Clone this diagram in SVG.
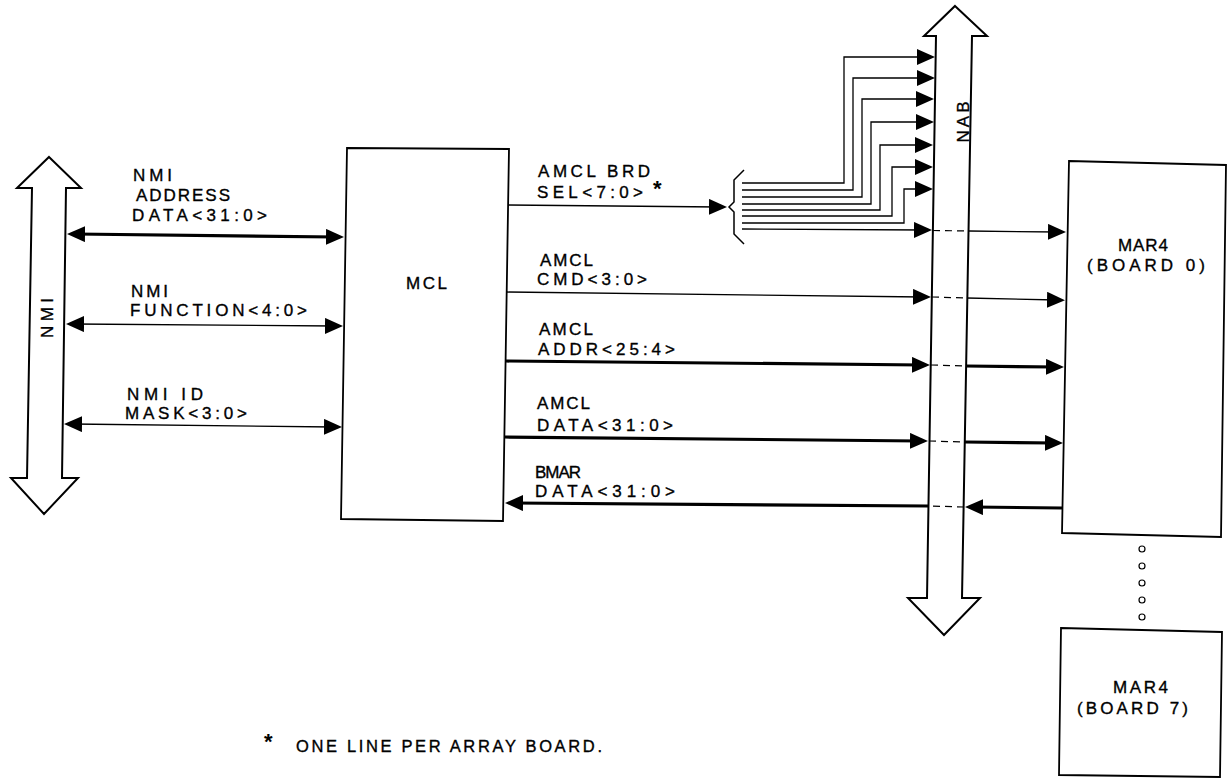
<svg xmlns="http://www.w3.org/2000/svg" width="1229" height="778" viewBox="0 0 1229 778">
<style>
.t{font-family:"Liberation Sans",Arial,Helvetica,sans-serif;font-size:17px;fill:#000;stroke:#000;stroke-width:0.35}
.box{fill:#fff;stroke:#000;stroke-width:1.8;stroke-linejoin:miter}
.bus{fill:#fff;stroke:#000;stroke-width:2;stroke-linejoin:miter}
.thin{fill:none;stroke:#000;stroke-width:1.3}
.thick{fill:none;stroke:#000;stroke-width:3.2}
.dash{fill:none;stroke:#000;stroke-width:1.2;stroke-dasharray:7 5}
.dot{fill:#fff;stroke:#000;stroke-width:1.2}
.star{font-family:"Liberation Sans",Arial,sans-serif;font-size:22px;font-weight:bold;fill:#000}
</style>
<defs>
<marker id="a" viewBox="0 0 18 16" refX="10" refY="8" markerWidth="18" markerHeight="16" markerUnits="userSpaceOnUse" orient="auto-start-reverse">
<path d="M0,0 L18,8 L0,16 z" fill="#000"/>
</marker>
</defs>
<rect width="1229" height="778" fill="#fff"/>

<g id="nmi-bus">
<polygon class="bus" points="49,157 81,188 66,188 62,478 78,478 44,514 11,478 27,478 32,188 17,188"/>
<text class="t" transform="translate(53,318) rotate(-90)" text-anchor="middle" textLength="40" lengthAdjust="spacing">NMI</text>
</g>

<g id="nab-bus">
<polygon class="bus" points="955,6 987,36 972,36 962,598 980,598 944,635 908,598 927,598 936,36 924,36"/>
<text class="t" transform="translate(969,122) rotate(-90)" text-anchor="middle" textLength="41" lengthAdjust="spacing">NAB</text>
</g>

<g id="mcl">
<polygon class="box" points="347,148 509,149 503,521 341,519"/>
<text class="t" x="406" y="289" textLength="41" lengthAdjust="spacing">MCL</text>
</g>

<g id="mar4-board0">
<polygon class="box" points="1069,161 1226,165 1221,537 1062,533"/>
<text class="t" x="1118" y="251" textLength="50" lengthAdjust="spacing">MAR4</text>
<text class="t" x="1087" y="271" textLength="118" lengthAdjust="spacing">(BOARD 0)</text>
</g>

<g id="ellipsis">
<circle class="dot" cx="1142" cy="549" r="3"/>
<circle class="dot" cx="1142" cy="566" r="3"/>
<circle class="dot" cx="1142" cy="583" r="3"/>
<circle class="dot" cx="1142" cy="600" r="3"/>
<circle class="dot" cx="1142" cy="617" r="3"/>
</g>

<g id="mar4-board7">
<polygon class="box" points="1061,628 1222,632 1220,777 1059,775"/>
<text class="t" x="1113" y="693" textLength="55" lengthAdjust="spacing">MAR4</text>
<text class="t" x="1077" y="714" textLength="111" lengthAdjust="spacing">(BOARD 7)</text>
</g>

<g id="connectors">
<line class="thick" x1="75" y1="234" x2="336" y2="237" marker-start="url(#a)" marker-end="url(#a)"/>
<line class="thin" x1="74" y1="324" x2="335" y2="326" marker-start="url(#a)" marker-end="url(#a)"/>
<line class="thin" x1="72" y1="424" x2="334" y2="427" marker-start="url(#a)" marker-end="url(#a)"/>
<line class="thin" x1="508" y1="205" x2="719" y2="207" marker-end="url(#a)"/>
<path class="thin" d="M744,170 L734,180 L734,202 L729,207 L734,212 L734,234 L744,244" style="stroke-width:1.5"/>
<path class="thin" d="M742,183 H844 V57 H927" marker-end="url(#a)"/>
<path class="thin" d="M742,190 H853 V78 H927" marker-end="url(#a)"/>
<path class="thin" d="M742,197 H862 V99 H926" marker-end="url(#a)"/>
<path class="thin" d="M742,204 H871 V122 H926" marker-end="url(#a)"/>
<path class="thin" d="M742,210 H880 V145 H925" marker-end="url(#a)"/>
<path class="thin" d="M742,216 H892 V167 H925" marker-end="url(#a)"/>
<path class="thin" d="M742,223 H904 V189 H925" marker-end="url(#a)"/>
<line class="thin" x1="742" y1="229" x2="924" y2="230" marker-end="url(#a)"/>
<line class="dash" x1="933" y1="230.5" x2="969" y2="231"/>
<line class="thin" x1="969" y1="231" x2="1058" y2="232" marker-end="url(#a)"/>
<line class="thin" x1="507" y1="292" x2="923" y2="297" marker-end="url(#a)"/>
<line class="dash" x1="932" y1="297" x2="967" y2="298"/>
<line class="thin" x1="967" y1="298" x2="1057" y2="300" marker-end="url(#a)"/>
<line class="thick" x1="506" y1="361" x2="922" y2="365" marker-end="url(#a)"/>
<line class="dash" x1="931" y1="365" x2="966" y2="366"/>
<line class="thick" x1="966" y1="366" x2="1056" y2="367" marker-end="url(#a)"/>
<line class="thick" x1="505" y1="437" x2="920" y2="441" marker-end="url(#a)"/>
<line class="dash" x1="929" y1="441" x2="965" y2="442"/>
<line class="thick" x1="965" y1="442" x2="1055" y2="443" marker-end="url(#a)"/>
<line class="thick" x1="1062" y1="508" x2="973" y2="507" marker-end="url(#a)"/>
<line class="dash" x1="964" y1="507" x2="928" y2="506"/>
<line class="thick" x1="928" y1="506" x2="513" y2="503" marker-end="url(#a)"/>
</g>

<g id="labels">
<text class="t" x="133" y="181" textLength="39" lengthAdjust="spacing">NMI</text>
<text class="t" x="136" y="201" textLength="94" lengthAdjust="spacing">ADDRESS</text>
<text class="t" x="132" y="221" textLength="135" lengthAdjust="spacing">DATA&lt;31:0&gt;</text>
<text class="t" x="131" y="297" textLength="37" lengthAdjust="spacing">NMI</text>
<text class="t" x="130" y="316" textLength="177" lengthAdjust="spacing">FUNCTION&lt;4:0&gt;</text>
<text class="t" x="127" y="400" textLength="76" lengthAdjust="spacing">NMI ID</text>
<text class="t" x="125" y="419" textLength="122" lengthAdjust="spacing">MASK&lt;3:0&gt;</text>

<text class="t" x="538" y="177" textLength="112" lengthAdjust="spacing">AMCL BRD</text>
<text class="t" x="537" y="198" textLength="106" lengthAdjust="spacing">SEL&lt;7:0&gt;</text>
<text class="star" x="653" y="196">*</text>
<text class="t" x="540" y="266" textLength="53" lengthAdjust="spacing">AMCL</text>
<text class="t" x="537" y="285" textLength="110" lengthAdjust="spacing">CMD&lt;3:0&gt;</text>
<text class="t" x="539" y="335" textLength="54" lengthAdjust="spacing">AMCL</text>
<text class="t" x="538" y="355" textLength="137" lengthAdjust="spacing">ADDR&lt;25:4&gt;</text>
<text class="t" x="537" y="409" textLength="53" lengthAdjust="spacing">AMCL</text>
<text class="t" x="537" y="431" textLength="136" lengthAdjust="spacing">DATA&lt;31:0&gt;</text>
<text class="t" x="535" y="478" textLength="46" lengthAdjust="spacing">BMAR</text>
<text class="t" x="535" y="497" textLength="140" lengthAdjust="spacing">DATA&lt;31:0&gt;</text>
</g>

<g id="footnote">
<text class="star" x="264" y="749">*</text>
<text class="t" x="296" y="752" textLength="306" lengthAdjust="spacing" style="font-size:16.5px">ONE LINE PER ARRAY BOARD.</text>
</g>
</svg>
